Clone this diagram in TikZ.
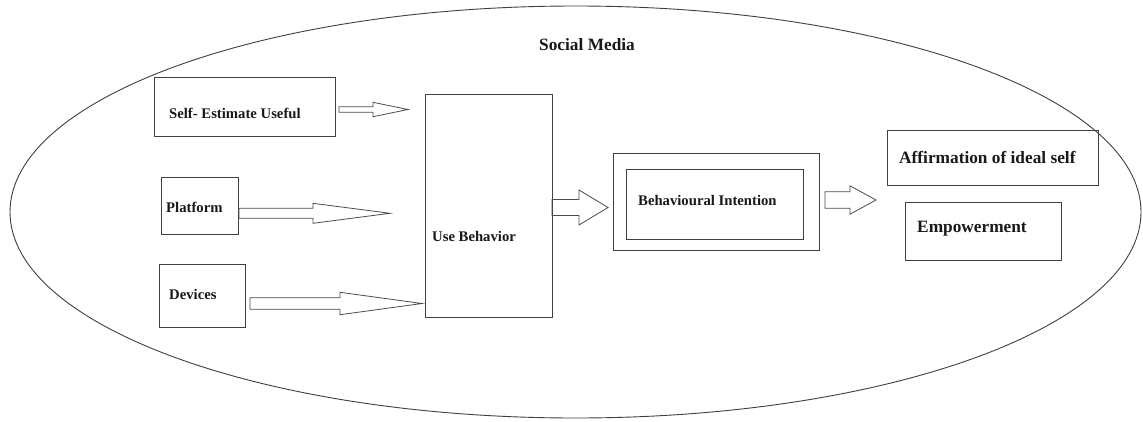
\documentclass[tikz,border=0pt]{standalone}
\usepackage{fontspec}
\setmainfont{Liberation Serif}
\newcommand\blockarr[7]{% name, tail x, head start x, tip x, y, half shaft, half head
  \draw[arrline] (#2,#5-#6) -- (#3,#5-#6) -- (#3,#5-#7) -- (#4,#5) coordinate (#1) -- (#3,#5+#7) -- (#3,#5+#6) -- (#2,#5+#6) -- cycle;}
\begin{document}
\begin{tikzpicture}[x=1pt,y=-1pt,
  box/.style={draw=black!75, line width=0.9pt, anchor=north west, inner sep=0pt},
  arrline/.style={draw=black!70, line width=0.8pt, line join=miter},
  small/.style={font=\fontsize{14.7}{17}\selectfont\bfseries, inner sep=0pt, anchor=base west, text=black!90},
  big/.style={font=\fontsize{17.3}{20}\selectfont\bfseries, inner sep=0pt, anchor=base west, text=black!90}]
\useasboundingbox (0,0) rectangle (1143,421);
\fill[white] (0,0) rectangle (1143,421);
% social media ellipse
\draw[black!75, line width=0.9pt] (575.5,212) ellipse [x radius=565.5, y radius=206];
\node[big] (sm) at (539,50) {Social Media};
% left boxes
\node[box, minimum width=181pt, minimum height=59pt] (seb) at (154,77) {};
\node[small] (set) at (169,118.5) {Self- Estimate Useful};
\node[box, minimum width=77pt, minimum height=57pt] (plb) at (161,177) {};
\node[small] (plt) at (166,212.7) {Platform};
\node[box, minimum width=86pt, minimum height=63pt] (dvb) at (159,264) {};
\node[small] (dvt) at (169,299.3) {Devices};
% use behavior
\node[box, minimum width=127pt, minimum height=223pt] (ubb) at (425,94) {};
\node[small] (ubt) at (432,241.7) {Use Behavior};
% behavioural intention
\node[box, minimum width=206pt, minimum height=97pt] (bio) at (613,153) {};
\node[box, minimum width=177pt, minimum height=70pt] (bii) at (626,169) {};
\node[small] (bit) at (638,205.7) {Behavioural Intention};
% right boxes
\node[box, minimum width=211pt, minimum height=55pt] (afb) at (887,130) {};
\node[big] (aft) at (899,163.3) {Affirmation of ideal self};
\node[box, minimum width=156pt, minimum height=58pt] (emb) at (905,202) {};
\node[big] (emt) at (917,232.7) {Empowerment};
% block arrows
\blockarr{a1}{339}{373}{408}{109.5}{2.8}{7.2}
\blockarr{a2}{239}{313}{390}{213.3}{5}{10}
\blockarr{a3}{250}{340}{422}{303.5}{5.8}{11.2}
\blockarr{a4}{552}{579}{608}{207.5}{8}{17.5}
\blockarr{a5}{825}{850}{876}{200}{8.3}{14.2}
\end{tikzpicture}
\end{document}
